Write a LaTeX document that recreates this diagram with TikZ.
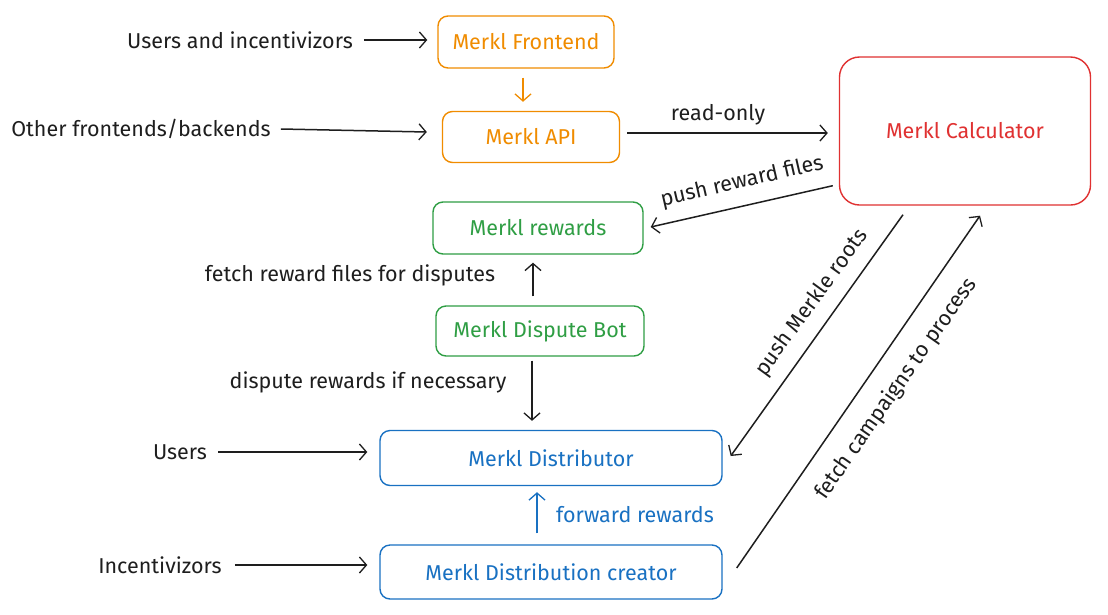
\documentclass[tikz,border=0pt]{standalone}
\usepackage{fontspec}
\setmainfont{Fira Sans}
\usetikzlibrary{arrows.meta}
\definecolor{ink}{HTML}{1E1E1E}
\definecolor{xorange}{HTML}{F08C00}
\definecolor{xred}{HTML}{E03131}
\definecolor{xgreen}{HTML}{2F9E44}
\definecolor{xblue}{HTML}{1971C2}
\tikzset{
  box/.style={draw=#1, text=#1, line width=1.4pt, rounded corners=10pt, inner sep=0pt},
  lbl/.style={text=ink, inner sep=1pt},
  arr/.style={draw=ink, line width=1.5pt, -{Straight Barb[length=7pt,width=16pt,line width=1.3pt]}},
  txt/.style={font=\fontsize{21.5}{24}\selectfont}
}
\begin{document}
\begin{tikzpicture}[x=1pt,y=-1pt,txt]
\useasboundingbox[fill=white] (0,0) rectangle (1108,614);
% boxes
\node[box=xorange, minimum width=176, minimum height=52] (front) at (526,42) {Merkl Frontend};
\node[box=xorange, minimum width=177, minimum height=51] (api) at (531,137) {Merkl API};
\node[box=xred, minimum width=251, minimum height=148, rounded corners=20pt] (calc) at (965,131) {Merkl Calculator};
\node[box=xgreen, minimum width=210, minimum height=52] (rewards) at (538,228) {Merkl rewards};
\node[box=xgreen, minimum width=208, minimum height=50] (bot) at (540,331) {Merkl Dispute Bot};
\node[box=xblue, minimum width=342, minimum height=55] (dist) at (551,458) {Merkl Distributor};
\node[box=xblue, minimum width=342, minimum height=54] (creator) at (551,572) {Merkl Distribution creator};
% labels
\node[lbl] (usersinc) at (240,40) {Users and incentivizors};
\node[lbl] (other) at (141,129) {Other frontends/backends};
\node[lbl] (readonly) at (718,115) {read-only};
\node[lbl, rotate=13] (pushfiles) at (742,182) {push reward files};
\node[lbl] (fetchfiles) at (350,275) {fetch reward files for disputes};
\node[lbl] (disputelbl) at (368,382) {dispute rewards if necessary};
\node[lbl] (users) at (180,452) {Users};
\node[lbl] (incent) at (160,565) {Incentivizors};
\node[lbl, text=xblue] (forward) at (635,515) {forward rewards};
\node[lbl, rotate=54] (roots) at (812,303) {push Merkle roots};
\node[lbl, rotate=55] (campaigns) at (896,389) {fetch campaigns to process};
% connectors
\draw[arr] ([xshift=10pt]usersinc.east) -- ([xshift=-10pt]usersinc.east -| front.west);
\draw[arr, draw=xorange, line width=1.2pt] ([shift={(-3,9)}]front.south) -- ([shift={(-3,-9)}]front.south |- api.north);
\draw[arr] ([xshift=9pt]other.east) -- ([shift={(-15,-5)}]api.west);
\draw[arr] ([shift={(7,-4)}]api.east) -- ([shift={(-11,2)}]calc.west);
\draw[arr] ([shift={(-6,-20)}]calc.south west) -- ([shift={(7,-1)}]rewards.east);
\draw[arr] ([shift={(-7,-9)}]bot.north) -- ([shift={(-5,8)}]rewards.south);
\draw[arr] ([shift={(-8,4)}]bot.south) -- ([shift={(-19,-9)}]dist.north);
\draw[arr] ([xshift=10pt]users.east) -- ([xshift=-12pt]users.east -| dist.west);
\draw[arr] ([xshift=12pt]incent.east) -- ([xshift=-12pt]incent.east -| creator.west);
\draw[arr, draw=xblue, line width=1.3pt] ([shift={(-14,-11)}]creator.north) -- ([shift={(-14,6)}]dist.south);
\draw[arr] ([shift={(-62,9)}]calc.south) -- ([shift={(8,-2)}]dist.east);
\draw[arr] ([shift={(14,-4)}]creator.east) -- ([shift={(15,10)}]calc.south);
\end{tikzpicture}
\end{document}
